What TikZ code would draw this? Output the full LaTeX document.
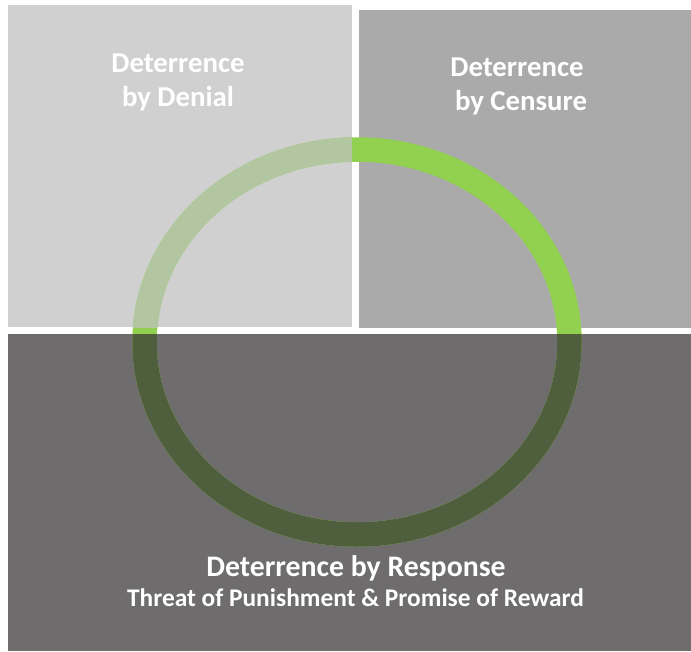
\documentclass[tikz,border=0pt]{standalone}
\usepackage{fontspec}
\setmainfont{Carlito}
\begin{document}
\begin{tikzpicture}[x=1pt,y=-1pt,
  ringline/.style={line width=24.5pt},
  lbl/.style={text=white,inner sep=0pt,anchor=base}]
\definecolor{denialgrey}{HTML}{D0D0D0}
\definecolor{censuregrey}{HTML}{AAAAAA}
\definecolor{responsegrey}{HTML}{6E6C6D}
\definecolor{ringgreen}{HTML}{92D050}
\definecolor{ringpale}{HTML}{B3C6A2}
\definecolor{ringdark}{HTML}{4F5E3C}
\useasboundingbox (0,0) rectangle (691,651);
% the three panels
\fill[denialgrey] (8,5) rectangle (352,327);
\fill[censuregrey] (359,10) rectangle (691,328);
\fill[responsegrey] (8,334) rectangle (691,651);
% ring, full colour where it shows between and over panels
\draw[ringline,ringgreen] (357,342) ellipse [x radius=212.5, y radius=192.5];
% ring seen through the light panel
\begin{scope}
  \clip (8,5) rectangle (352,327);
  \draw[ringline,ringpale] (357,342) ellipse [x radius=212.5, y radius=192.5];
\end{scope}
% ring seen through the dark panel
\begin{scope}
  \clip (8,334) rectangle (691,651);
  \draw[ringline,ringdark] (357,342) ellipse [x radius=212.5, y radius=192.5];
\end{scope}
% labels
\node[lbl,font=\bfseries\fontsize{28.8}{34}\selectfont] (denA) at (178,72) {Deterrence};
\node[lbl,font=\bfseries\fontsize{28.8}{34}\selectfont] (denB) at (178,106.5) {by Denial};
\node[lbl,font=\bfseries\fontsize{28.8}{34}\selectfont] (cenA) at (517,76) {Deterrence};
\node[lbl,font=\bfseries\fontsize{28.8}{34}\selectfont] (cenB) at (521,110.5) {by Censure};
\node[lbl,font=\bfseries\fontsize{29.8}{35}\selectfont] (resA) at (356,576) {Deterrence by Response};
\node[lbl,font=\bfseries\fontsize{25.4}{30}\selectfont] (resB) at (355.5,606) {Threat of Punishment \& Promise of Reward};
\end{tikzpicture}
\end{document}
